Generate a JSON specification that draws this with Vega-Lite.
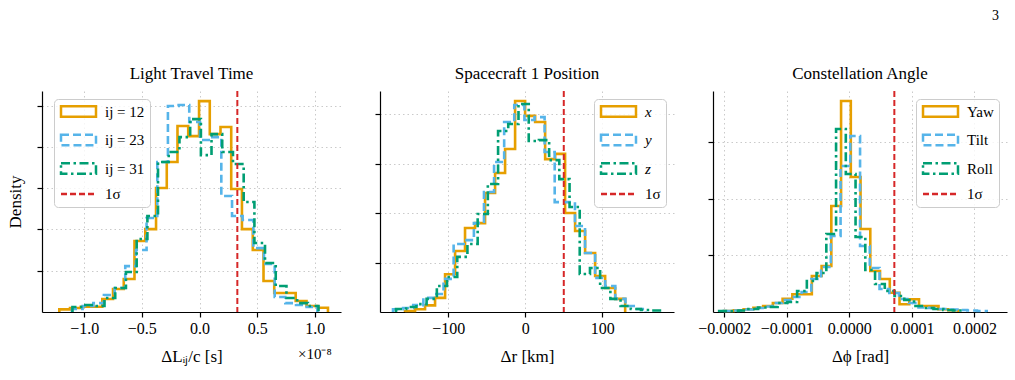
{
  "$schema": "https://vega.github.io/schema/vega-lite/v6.json",
  "background": "white",
  "padding": {"left": 6, "top": 9, "right": 5, "bottom": 5},
  "title": {"text": "3", "anchor": "end", "fontSize": 14, "font": "Liberation Serif", "fontWeight": "normal", "color": "black", "offset": 42, "dx": -8},
  "config": {
    "font": "Liberation Serif",
    "view": {"stroke": null},
    "axis": {"labelFont": "Liberation Serif", "labelFontSize": 16, "labelColor": "black", "titleFont": "Liberation Serif", "titleFontSize": 17, "titleFontWeight": "normal", "titleColor": "black", "domainColor": "black", "domainWidth": 1.2, "tickColor": "black", "tickSize": 5, "tickWidth": 1.2, "gridColor": "#c4c4c4", "gridDash": [1.5, 3], "gridWidth": 0.9, "labelPadding": 3, "labelFlush": false},
    "title": {"font": "Liberation Serif", "fontSize": 17, "fontWeight": "normal", "color": "black", "offset": 7},
    "legend": {"labelFont": "Liberation Serif", "labelFontSize": 15, "labelColor": "black", "symbolSize": 136, "symbolStrokeWidth": 2.5, "symbolOffset": 12, "labelOffset": 19, "fillColor": "rgba(255,255,255,0.8)", "strokeColor": "#cccccc", "cornerRadius": 4, "padding": 5, "rowPadding": 7.5, "offset": 8}
  },
  "datasets": {
    "lt": [
      {"s":"ij = 12","i":0,"x":-1.216,"d":0},{"s":"ij = 12","i":1,"x":-1.216,"d":0.016},{"s":"ij = 12","i":2,"x":-1.123,"d":0.024},{"s":"ij = 12","i":3,"x":-1.03,"d":0.032},{"s":"ij = 12","i":4,"x":-0.936,"d":0.032},{"s":"ij = 12","i":5,"x":-0.843,"d":0.079},{"s":"ij = 12","i":6,"x":-0.75,"d":0.139},{"s":"ij = 12","i":7,"x":-0.657,"d":0.2},{"s":"ij = 12","i":8,"x":-0.564,"d":0.43},{"s":"ij = 12","i":9,"x":-0.47,"d":0.502},{"s":"ij = 12","i":10,"x":-0.377,"d":0.751},{"s":"ij = 12","i":11,"x":-0.284,"d":0.908},{"s":"ij = 12","i":12,"x":-0.191,"d":1.126},{"s":"ij = 12","i":13,"x":-0.098,"d":1.065},{"s":"ij = 12","i":14,"x":-0.004,"d":1.277},{"s":"ij = 12","i":15,"x":0.089,"d":1.077},{"s":"ij = 12","i":16,"x":0.182,"d":1.12},{"s":"ij = 12","i":17,"x":0.275,"d":0.745},{"s":"ij = 12","i":18,"x":0.368,"d":0.502},{"s":"ij = 12","i":19,"x":0.462,"d":0.375},{"s":"ij = 12","i":20,"x":0.555,"d":0.188},{"s":"ij = 12","i":21,"x":0.648,"d":0.115},{"s":"ij = 12","i":22,"x":0.741,"d":0.115},{"s":"ij = 12","i":23,"x":0.834,"d":0.067},{"s":"ij = 12","i":24,"x":0.928,"d":0.036},{"s":"ij = 12","i":25,"x":1.021,"d":0.026},{"s":"ij = 12","i":26,"x":1.114,"d":0},
      {"s":"ij = 23","i":0,"x":-1.106,"d":0},{"s":"ij = 23","i":1,"x":-1.106,"d":0.018},{"s":"ij = 23","i":2,"x":-1.014,"d":0.036},{"s":"ij = 23","i":3,"x":-0.921,"d":0.054},{"s":"ij = 23","i":4,"x":-0.829,"d":0.103},{"s":"ij = 23","i":5,"x":-0.736,"d":0.145},{"s":"ij = 23","i":6,"x":-0.644,"d":0.278},{"s":"ij = 23","i":7,"x":-0.551,"d":0.375},{"s":"ij = 23","i":8,"x":-0.459,"d":0.569},{"s":"ij = 23","i":9,"x":-0.366,"d":0.908},{"s":"ij = 23","i":10,"x":-0.274,"d":1.247},{"s":"ij = 23","i":11,"x":-0.181,"d":1.253},{"s":"ij = 23","i":12,"x":-0.089,"d":1.15},{"s":"ij = 23","i":13,"x":0.004,"d":1.041},{"s":"ij = 23","i":14,"x":0.097,"d":1.059},{"s":"ij = 23","i":15,"x":0.189,"d":0.702},{"s":"ij = 23","i":16,"x":0.282,"d":0.581},{"s":"ij = 23","i":17,"x":0.374,"d":0.557},{"s":"ij = 23","i":18,"x":0.467,"d":0.387},{"s":"ij = 23","i":19,"x":0.559,"d":0.291},{"s":"ij = 23","i":20,"x":0.652,"d":0.091},{"s":"ij = 23","i":21,"x":0.744,"d":0.054},{"s":"ij = 23","i":22,"x":0.837,"d":0.042},{"s":"ij = 23","i":23,"x":0.929,"d":0.03},{"s":"ij = 23","i":24,"x":1.022,"d":0},
      {"s":"ij = 31","i":0,"x":-1.102,"d":0},{"s":"ij = 31","i":1,"x":-1.102,"d":0.03},{"s":"ij = 31","i":2,"x":-1.009,"d":0.042},{"s":"ij = 31","i":3,"x":-0.916,"d":0.036},{"s":"ij = 31","i":4,"x":-0.824,"d":0.085},{"s":"ij = 31","i":5,"x":-0.731,"d":0.145},{"s":"ij = 31","i":6,"x":-0.638,"d":0.242},{"s":"ij = 31","i":7,"x":-0.545,"d":0.442},{"s":"ij = 31","i":8,"x":-0.452,"d":0.581},{"s":"ij = 31","i":9,"x":-0.36,"d":0.908},{"s":"ij = 31","i":10,"x":-0.267,"d":0.969},{"s":"ij = 31","i":11,"x":-0.174,"d":1.059},{"s":"ij = 31","i":12,"x":-0.081,"d":1.168},{"s":"ij = 31","i":13,"x":0.012,"d":0.95},{"s":"ij = 31","i":14,"x":0.104,"d":1.077},{"s":"ij = 31","i":15,"x":0.197,"d":0.969},{"s":"ij = 31","i":16,"x":0.29,"d":0.896},{"s":"ij = 31","i":17,"x":0.383,"d":0.666},{"s":"ij = 31","i":18,"x":0.476,"d":0.418},{"s":"ij = 31","i":19,"x":0.568,"d":0.297},{"s":"ij = 31","i":20,"x":0.661,"d":0.157},{"s":"ij = 31","i":21,"x":0.754,"d":0.085},{"s":"ij = 31","i":22,"x":0.847,"d":0.054},{"s":"ij = 31","i":23,"x":0.94,"d":0.036},{"s":"ij = 31","i":24,"x":1.032,"d":0}
    ],
    "sc": [
      {"s":"x","i":0,"x":-156.2,"d":0},{"s":"x","i":1,"x":-156.2,"d":0.00004},{"s":"x","i":2,"x":-143.2,"d":0.00011},{"s":"x","i":3,"x":-130.2,"d":0.00027},{"s":"x","i":4,"x":-117.2,"d":0.00057},{"s":"x","i":5,"x":-104.2,"d":0.00153},{"s":"x","i":6,"x":-91.2,"d":0.00247},{"s":"x","i":7,"x":-78.3,"d":0.0034},{"s":"x","i":8,"x":-65.3,"d":0.0036},{"s":"x","i":9,"x":-52.3,"d":0.00482},{"s":"x","i":10,"x":-39.3,"d":0.00563},{"s":"x","i":11,"x":-26.3,"d":0.0066},{"s":"x","i":12,"x":-13.3,"d":0.00854},{"s":"x","i":13,"x":-0.3,"d":0.00794},{"s":"x","i":14,"x":12.7,"d":0.00769},{"s":"x","i":15,"x":25.7,"d":0.00619},{"s":"x","i":16,"x":38.7,"d":0.0064},{"s":"x","i":17,"x":51.6,"d":0.00401},{"s":"x","i":18,"x":64.6,"d":0.00328},{"s":"x","i":19,"x":77.6,"d":0.00239},{"s":"x","i":20,"x":90.6,"d":0.00146},{"s":"x","i":21,"x":103.6,"d":0.00097},{"s":"x","i":22,"x":116.6,"d":0.00053},{"s":"x","i":23,"x":129.6,"d":0},
      {"s":"y","i":0,"x":-171.8,"d":0},{"s":"y","i":1,"x":-171.8,"d":0.00011},{"s":"y","i":2,"x":-158.7,"d":0.00016},{"s":"y","i":3,"x":-145.6,"d":0.00028},{"s":"y","i":4,"x":-132.4,"d":0.00057},{"s":"y","i":5,"x":-119.3,"d":0.00073},{"s":"y","i":6,"x":-106.2,"d":0.00134},{"s":"y","i":7,"x":-93.1,"d":0.00275},{"s":"y","i":8,"x":-80.0,"d":0.00291},{"s":"y","i":9,"x":-66.8,"d":0.0036},{"s":"y","i":10,"x":-53.7,"d":0.00486},{"s":"y","i":11,"x":-40.6,"d":0.00607},{"s":"y","i":12,"x":-27.5,"d":0.00769},{"s":"y","i":13,"x":-14.4,"d":0.00838},{"s":"y","i":14,"x":-1.2,"d":0.00777},{"s":"y","i":15,"x":11.9,"d":0.00789},{"s":"y","i":16,"x":25.0,"d":0.00648},{"s":"y","i":17,"x":38.1,"d":0.00445},{"s":"y","i":18,"x":51.2,"d":0.00445},{"s":"y","i":19,"x":64.4,"d":0.00348},{"s":"y","i":20,"x":77.5,"d":0.00239},{"s":"y","i":21,"x":90.6,"d":0.00138},{"s":"y","i":22,"x":103.7,"d":0.00105},{"s":"y","i":23,"x":116.8,"d":0.00053},{"s":"y","i":24,"x":130.0,"d":0.00024},{"s":"y","i":25,"x":143.1,"d":0.00012},{"s":"y","i":26,"x":156.2,"d":0},
      {"s":"z","i":0,"x":-167.9,"d":0},{"s":"z","i":1,"x":-167.9,"d":0.00012},{"s":"z","i":2,"x":-154.7,"d":0.0002},{"s":"z","i":3,"x":-141.4,"d":0.00032},{"s":"z","i":4,"x":-128.2,"d":0.00053},{"s":"z","i":5,"x":-114.9,"d":0.00105},{"s":"z","i":6,"x":-101.7,"d":0.00142},{"s":"z","i":7,"x":-88.4,"d":0.00223},{"s":"z","i":8,"x":-75.2,"d":0.00275},{"s":"z","i":9,"x":-61.9,"d":0.00397},{"s":"z","i":10,"x":-48.7,"d":0.00518},{"s":"z","i":11,"x":-35.4,"d":0.00733},{"s":"z","i":12,"x":-22.2,"d":0.00761},{"s":"z","i":13,"x":-8.9,"d":0.00842},{"s":"z","i":14,"x":4.4,"d":0.00692},{"s":"z","i":15,"x":17.6,"d":0.00696},{"s":"z","i":16,"x":30.9,"d":0.00615},{"s":"z","i":17,"x":44.1,"d":0.00538},{"s":"z","i":18,"x":57.4,"d":0.00425},{"s":"z","i":19,"x":70.6,"d":0.00154},{"s":"z","i":20,"x":83.9,"d":0.00178},{"s":"z","i":21,"x":97.1,"d":0.00097},{"s":"z","i":22,"x":110.4,"d":0.00053},{"s":"z","i":23,"x":123.6,"d":0.00024},{"s":"z","i":24,"x":136.9,"d":0.00012},{"s":"z","i":25,"x":150.1,"d":0.00008},{"s":"z","i":26,"x":163.4,"d":0.00006},{"s":"z","i":27,"x":176.6,"d":0}
    ],
    "ca": [
      {"s":"Yaw","i":0,"x":-0.00020016,"d":0},{"s":"Yaw","i":1,"x":-0.00020016,"d":88},{"s":"Yaw","i":2,"x":-0.00018459,"d":150},{"s":"Yaw","i":3,"x":-0.00016901,"d":238},{"s":"Yaw","i":4,"x":-0.00015344,"d":379},{"s":"Yaw","i":5,"x":-0.00013786,"d":529},{"s":"Yaw","i":6,"x":-0.00012229,"d":794},{"s":"Yaw","i":7,"x":-0.00010671,"d":1173},{"s":"Yaw","i":8,"x":-0.00009114,"d":1561},{"s":"Yaw","i":9,"x":-0.00007556,"d":1561},{"s":"Yaw","i":10,"x":-0.00005999,"d":3174},{"s":"Yaw","i":11,"x":-0.00004441,"d":4056},{"s":"Yaw","i":12,"x":-0.00002884,"d":9347},{"s":"Yaw","i":13,"x":-0.00001326,"d":18606},{"s":"Yaw","i":14,"x":0.00000231,"d":11904},{"s":"Yaw","i":15,"x":0.00001789,"d":7319},{"s":"Yaw","i":16,"x":0.00003346,"d":3615},{"s":"Yaw","i":17,"x":0.00004904,"d":2910},{"s":"Yaw","i":18,"x":0.00006461,"d":1702},{"s":"Yaw","i":19,"x":0.00008019,"d":679},{"s":"Yaw","i":20,"x":0.00009576,"d":1120},{"s":"Yaw","i":21,"x":0.00011134,"d":529},{"s":"Yaw","i":22,"x":0.00012691,"d":529},{"s":"Yaw","i":23,"x":0.00014249,"d":238},{"s":"Yaw","i":24,"x":0.00015806,"d":150},{"s":"Yaw","i":25,"x":0.00017364,"d":0},
      {"s":"Tilt","i":0,"x":-0.00020096,"d":0},{"s":"Tilt","i":1,"x":-0.00020096,"d":88},{"s":"Tilt","i":2,"x":-0.00018539,"d":132},{"s":"Tilt","i":3,"x":-0.00016981,"d":220},{"s":"Tilt","i":4,"x":-0.00015424,"d":353},{"s":"Tilt","i":5,"x":-0.00013866,"d":485},{"s":"Tilt","i":6,"x":-0.00012309,"d":794},{"s":"Tilt","i":7,"x":-0.00010751,"d":1058},{"s":"Tilt","i":8,"x":-0.00009194,"d":1323},{"s":"Tilt","i":9,"x":-0.00007636,"d":1764},{"s":"Tilt","i":10,"x":-0.00006079,"d":2910},{"s":"Tilt","i":11,"x":-0.00004521,"d":3968},{"s":"Tilt","i":12,"x":-0.00002964,"d":6702},{"s":"Tilt","i":13,"x":-0.00001406,"d":12874},{"s":"Tilt","i":14,"x":0.00000151,"d":15520},{"s":"Tilt","i":15,"x":0.00001709,"d":5820},{"s":"Tilt","i":16,"x":0.00003266,"d":3880},{"s":"Tilt","i":17,"x":0.00004824,"d":2028},{"s":"Tilt","i":18,"x":0.00006381,"d":1675},{"s":"Tilt","i":19,"x":0.00007939,"d":1146},{"s":"Tilt","i":20,"x":0.00009496,"d":794},{"s":"Tilt","i":21,"x":0.00011054,"d":397},{"s":"Tilt","i":22,"x":0.00012611,"d":353},{"s":"Tilt","i":23,"x":0.00014169,"d":265},{"s":"Tilt","i":24,"x":0.00015726,"d":220},{"s":"Tilt","i":25,"x":0.00017284,"d":176},{"s":"Tilt","i":26,"x":0.00018841,"d":132},{"s":"Tilt","i":27,"x":0.00020399,"d":88},{"s":"Tilt","i":28,"x":0.00021956,"d":0},
      {"s":"Roll","i":0,"x":-0.00020815,"d":0},{"s":"Roll","i":1,"x":-0.00020815,"d":88},{"s":"Roll","i":2,"x":-0.00019258,"d":88},{"s":"Roll","i":3,"x":-0.000177,"d":132},{"s":"Roll","i":4,"x":-0.00016143,"d":265},{"s":"Roll","i":5,"x":-0.00014585,"d":397},{"s":"Roll","i":6,"x":-0.00013028,"d":441},{"s":"Roll","i":7,"x":-0.0001147,"d":794},{"s":"Roll","i":8,"x":-0.00009913,"d":882},{"s":"Roll","i":9,"x":-0.00008355,"d":1852},{"s":"Roll","i":10,"x":-0.00006798,"d":2734},{"s":"Roll","i":11,"x":-0.0000524,"d":3439},{"s":"Roll","i":12,"x":-0.00003683,"d":6878},{"s":"Roll","i":13,"x":-0.00002125,"d":16137},{"s":"Roll","i":14,"x":-0.00000568,"d":12169},{"s":"Roll","i":15,"x":0.0000099,"d":6614},{"s":"Roll","i":16,"x":0.00002547,"d":3704},{"s":"Roll","i":17,"x":0.00004105,"d":2469},{"s":"Roll","i":18,"x":0.00005662,"d":1852},{"s":"Roll","i":19,"x":0.0000722,"d":1411},{"s":"Roll","i":20,"x":0.00008777,"d":1058},{"s":"Roll","i":21,"x":0.00010335,"d":529},{"s":"Roll","i":22,"x":0.00011892,"d":353},{"s":"Roll","i":23,"x":0.0001345,"d":265},{"s":"Roll","i":24,"x":0.00015007,"d":176},{"s":"Roll","i":25,"x":0.00016565,"d":132},{"s":"Roll","i":26,"x":0.00018122,"d":0}
    ],
    "sig1": [{"s": "1σ", "x": 0.328}],
    "sig2": [{"s": "1σ", "x": 49.9}],
    "sig3": [{"s": "1σ", "x": 0.0000719}]
  },
  "bounds": "flush",
  "spacing": 39,
  "resolve": {"scale": {"color": "independent", "strokeDash": "independent"}, "legend": {"color": "independent", "strokeDash": "independent"}},
  "hconcat": [
    {
      "width": 299, "height": 221,
      "title": {"text": "Light Travel Time"},
      "layer": [
        {
          "data": {"name": "lt"},
          "mark": {"type": "line", "interpolate": "step-after", "strokeWidth": 2.6},
          "encoding": {
            "x": {"field": "x", "type": "quantitative", "scale": {"domain": [-1.366, 1.227], "nice": false, "zero": false}, "axis": {"values": [-1, -0.5, 0, 0.5, 1], "format": ".1f", "title": "ΔLᵢⱼ/c  [s]", "titlePadding": 12}},
            "y": {"field": "d", "type": "quantitative", "scale": {"domain": [0, 1.338], "nice": false}, "axis": {"values": [0.25, 0.5, 0.75, 1, 1.25], "labels": false, "title": "Density", "titlePadding": 12}},
            "color": {"field": "s", "type": "nominal", "scale": {"domain": ["ij = 12", "ij = 23", "ij = 31", "1σ"], "range": ["#E69F00", "#56B4E9", "#009E73", "#D62728"]},
              "legend": {"title": null, "orient": "none", "legendX": 12, "legendY": 8, "symbolType": "M-3,-0.9H3V0.9H-3Z",
                "encode": {"symbols": {"update": {"shape": {"signal": "datum.value === '1σ' ? 'M-3,0H3' : 'M-3,-0.9H3V0.9H-3Z'"}, "fill": {"value": "transparent"}}}}}},
            "strokeDash": {"field": "s", "type": "nominal", "scale": {"domain": ["ij = 12", "ij = 23", "ij = 31", "1σ"], "range": [[1, 0], [8, 4], [9, 3.5, 2.5, 3.5], [6, 3]]}},
            "order": {"field": "i", "type": "quantitative"}
          }
        },
        {
          "data": {"name": "sig1"},
          "mark": {"type": "rule", "strokeWidth": 2},
          "encoding": {
            "x": {"field": "x", "type": "quantitative"},
            "color": {"field": "s", "type": "nominal", "scale": {"domain": ["ij = 12", "ij = 23", "ij = 31", "1σ"], "range": ["#E69F00", "#56B4E9", "#009E73", "#D62728"]}},
            "strokeDash": {"field": "s", "type": "nominal", "scale": {"domain": ["ij = 12", "ij = 23", "ij = 31", "1σ"], "range": [[1, 0], [8, 4], [9, 3.5, 2.5, 3.5], [6, 3]]}}
          }
        },
        {
          "data": {"values": [{}]},
          "mark": {"type": "text", "dy": 42, "fontSize": 15, "font": "Liberation Serif", "color": "black"},
          "encoding": {"x": {"datum": 1.0}, "y": {"datum": 0}, "text": {"value": "×10⁻⁸"}}
        }
      ]
    },
    {
      "width": 294, "height": 221,
      "title": {"text": "Spacecraft 1 Position"},
      "layer": [
        {
          "data": {"name": "sc"},
          "mark": {"type": "line", "interpolate": "step-after", "strokeWidth": 2.6},
          "encoding": {
            "x": {"field": "x", "type": "quantitative", "scale": {"domain": [-188.7, 193], "nice": false, "zero": false}, "axis": {"values": [-100, 0, 100], "format": "d", "title": "Δr [km]", "titlePadding": 12}},
            "y": {"field": "d", "type": "quantitative", "scale": {"domain": [0, 0.008947], "nice": false}, "axis": {"values": [0.002, 0.004, 0.006, 0.008], "labels": false, "title": null}},
            "color": {"field": "s", "type": "nominal", "scale": {"domain": ["x", "y", "z", "1σ"], "range": ["#E69F00", "#56B4E9", "#009E73", "#D62728"]},
              "legend": {"title": null, "orient": "top-right", "symbolType": "M-3,-0.9H3V0.9H-3Z",
                "encode": {"symbols": {"update": {"shape": {"signal": "datum.value === '1σ' ? 'M-3,0H3' : 'M-3,-0.9H3V0.9H-3Z'"}, "fill": {"value": "transparent"}}},
                           "labels": {"update": {"fontStyle": {"signal": "datum.value === '1σ' ? 'normal' : 'italic'"}}}}}},
            "strokeDash": {"field": "s", "type": "nominal", "scale": {"domain": ["x", "y", "z", "1σ"], "range": [[1, 0], [8, 4], [9, 3.5, 2.5, 3.5], [6, 3]]}},
            "order": {"field": "i", "type": "quantitative"}
          }
        },
        {
          "data": {"name": "sig2"},
          "mark": {"type": "rule", "strokeWidth": 2},
          "encoding": {
            "x": {"field": "x", "type": "quantitative"},
            "color": {"field": "s", "type": "nominal", "scale": {"domain": ["x", "y", "z", "1σ"], "range": ["#E69F00", "#56B4E9", "#009E73", "#D62728"]}},
            "strokeDash": {"field": "s", "type": "nominal", "scale": {"domain": ["x", "y", "z", "1σ"], "range": [[1, 0], [8, 4], [9, 3.5, 2.5, 3.5], [6, 3]]}}
          }
        }
      ]
    },
    {
      "width": 294, "height": 221,
      "title": {"text": "Constellation Angle"},
      "layer": [
        {
          "data": {"name": "ca"},
          "mark": {"type": "line", "interpolate": "step-after", "strokeWidth": 2.6},
          "encoding": {
            "x": {"field": "x", "type": "quantitative", "scale": {"domain": [-0.000218, 0.000252], "nice": false, "zero": false}, "axis": {"values": [-0.0002, -0.0001, 0, 0.0001, 0.0002], "format": ".4f", "title": "Δϕ [rad]", "titlePadding": 12}},
            "y": {"field": "d", "type": "quantitative", "scale": {"domain": [0, 19488], "nice": false}, "axis": {"values": [5000, 10000, 15000], "labels": false, "title": null}},
            "color": {"field": "s", "type": "nominal", "scale": {"domain": ["Yaw", "Tilt", "Roll", "1σ"], "range": ["#E69F00", "#56B4E9", "#009E73", "#D62728"]},
              "legend": {"title": null, "orient": "top-right", "symbolType": "M-3,-0.9H3V0.9H-3Z",
                "encode": {"symbols": {"update": {"shape": {"signal": "datum.value === '1σ' ? 'M-3,0H3' : 'M-3,-0.9H3V0.9H-3Z'"}, "fill": {"value": "transparent"}}}}}},
            "strokeDash": {"field": "s", "type": "nominal", "scale": {"domain": ["Yaw", "Tilt", "Roll", "1σ"], "range": [[1, 0], [8, 4], [9, 3.5, 2.5, 3.5], [6, 3]]}},
            "order": {"field": "i", "type": "quantitative"}
          }
        },
        {
          "data": {"name": "sig3"},
          "mark": {"type": "rule", "strokeWidth": 2},
          "encoding": {
            "x": {"field": "x", "type": "quantitative"},
            "color": {"field": "s", "type": "nominal", "scale": {"domain": ["Yaw", "Tilt", "Roll", "1σ"], "range": ["#E69F00", "#56B4E9", "#009E73", "#D62728"]}},
            "strokeDash": {"field": "s", "type": "nominal", "scale": {"domain": ["Yaw", "Tilt", "Roll", "1σ"], "range": [[1, 0], [8, 4], [9, 3.5, 2.5, 3.5], [6, 3]]}}
          }
        }
      ]
    }
  ]
}
